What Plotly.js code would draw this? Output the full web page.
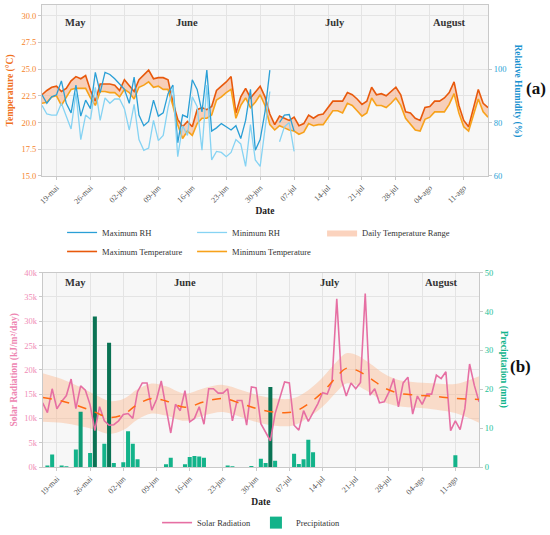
<!DOCTYPE html>
<html>
<head>
<meta charset="utf-8">
<script src="https://cdn.plot.ly/plotly-3.0.1.min.js"></script>
<style>html,body{margin:0;padding:0;background:#fff}#chart{width:550px;height:535px}</style>
</head>
<body>
<div id="chart"></div>
<script>
// ---------- data ----------
const startDay = '2023-05-16';   // first day of the daily series

const tempMax = [
  22.6, 23.0, 23.3, 23.4, 22.9, 23.2, 23.9, 24.3, 24.1, 24.4,
  23.0, 22.0, 23.6, 23.6, 23.6, 23.5, 23.0, 24.0, 23.4, 22.9,
  24.0, 24.5, 24.9, 24.1, 24.2, 24.2, 24.0, 21.9, 20.3, 19.6,
  20.1, 19.6, 21.2, 21.4, 21.2, 21.5, 23.0, 23.4, 23.8, 24.3,
  20.9, 22.4, 23.2, 22.3, 22.8, 23.4, 22.4, 20.8, 19.8, 20.6,
  20.4, 20.2, 20.5, 19.7, 19.9, 20.7, 20.4, 20.7, 20.8, 21.4,
  22.0, 22.0, 22.0, 22.8, 22.6, 22.2, 21.7, 22.0, 23.3, 22.6,
  22.7, 22.5, 22.9, 23.3, 22.6, 21.0, 20.9, 20.4, 20.2, 21.4,
  21.5, 22.0, 22.0, 22.3, 22.8, 23.8, 21.6, 20.2, 19.6, 21.3,
  23.1, 21.8, 21.4
];
const tempMin = [
  21.8, 21.9, 22.4, 22.5, 21.6, 22.3, 23.1, 23.2, 23.2, 23.2,
  22.3, 21.6, 22.9, 22.9, 22.8, 22.8, 22.4, 23.1, 22.8, 22.2,
  23.3, 23.5, 23.8, 23.3, 23.4, 23.1, 23.1, 21.6, 19.8, 18.5,
  19.2, 18.8, 19.9, 20.4, 20.4, 20.7, 22.1, 22.4, 22.8, 23.1,
  20.4, 21.6, 22.3, 21.4, 21.9, 22.6, 21.6, 19.8, 19.3, 19.7,
  19.5, 19.3, 19.2, 18.9, 19.1, 19.9, 19.7, 19.8, 19.8, 20.4,
  21.1, 21.1, 20.9, 21.8, 21.6, 21.1, 20.6, 20.9, 22.3, 21.6,
  21.6, 21.4, 21.8, 22.3, 21.6, 20.4, 19.9, 19.3, 19.2, 20.3,
  20.5, 21.0, 21.0, 21.0, 21.7, 22.7, 20.9, 19.6, 19.2, 20.6,
  22.2, 21.0, 20.5
];
const rhMax = [
  90.4, 87.2, 89.6, 90.4, 95.6, 87.2, 83.6, 94.0, 82.4, 88.4,
  85.2, 98.8, 91.2, 98.8, 98.0, 96.4, 94.4, 92.4, 87.2, 97.0,
  82.8, 78.8, 80.4, 88.4, 82.4, 83.6, 90.8, 94.0, 72.4, 82.8,
  82.0, 96.0, 92.4, 84.0, 99.6, 76.8, 78.0, 79.6, 78.4, 77.2,
  78.8, 74.0, 80.8, 92.4, 69.6, 73.6, 84.0, 99.6, null, 80.0,
  82.8, 83.0, 76.8
];
const rhMin = [
  86.4, 83.2, 82.8, 82.8, 87.2, 82.4, 77.6, 91.2, 73.6, 82.8,
  81.2, 93.2, 80.8, 89.2, 87.2, 88.8, 88.8, 85.2, 77.2, 86.8,
  73.6, 69.6, 70.4, 80.8, 73.2, 75.2, 85.6, 93.2, 67.2, 78.8,
  75.2, 89.6, 86.0, 69.6, 94.0, 66.0, 69.2, 68.8, 67.2, 68.8,
  73.6, 72.0, 63.6, 79.2, 66.0, 63.6, 78.4, 91.6, null, 72.8,
  78.4, 80.0, 69.2
];
const solarRad = [
  13200, 11200, 16100, 12000, 13500, 14700, 18100, 12000, 16700, 15800,
  12800,  7500, 12400,  9500,  8600,  8700,  9500, 10800, 11000, 10000,
  15500, 17300, 17300, 11700, 13900, 17700, 12200,  7000, 12900, 11600,
  15700,  9300, 10000, 12400,  8800, 16100, 16100, 15200, 15200, 16100,
   9500, 13700, 13700,  8600, 16500, 16300,  8900,  7000,  5400, 11000,
  14500, 17500, 17300,  8600,  7600, 11600,  9400, 11300, 13000, 15300,
  15000, 17600, 34600, 17900, 14600, 17300, 16100, 17400, 35700, 14800,
  16100, 13200, 13400, 15400, 18200, 12400, 17300, 18500, 10900, 14600,
  12900, 15000, 15000, 18900, 18200, 19600,  7500,  9500,  7700, 12000,
  21200, 16800, 13400
];
const precip = [
  0, 0.4, 3.2, 0, 0.4, 0.2, 0, 4.5, 14.2, 0,
  3.6, 38.7, 0, 6.0, 32.0, 1.0, 0, 1.2, 9.2, 6.0,
  2.0, 0, 0, 0, 0, 0, 0.7, 2.4, 0, 0,
  0.7, 2.6, 2.8, 2.7, 2.4, 0, 0, 0, 0, 0.4,
  0.2, 0, 0, 0, 0.25, 0, 2.1, 1.0, 20.6, 1.6,
  0, 0, 0, 3.4, 0.8, 2.0, 7.0, 3.8, 0, 0,
  0, 0, 0, 0, 0, 0, 0, 0, 0, 0,
  0, 0, 0, 0, 0, 0, 0, 0, 0, 0,
  0, 0, 0, 0, 0, 0, 0, 3.0, 0, 0,
  0, 0, 0
];
// smoothed solar-radiation trend and its band, read at these dates
const trendDates = ['2023-05-16','2023-05-20','2023-05-24','2023-05-27','2023-05-30','2023-06-02','2023-06-05',
  '2023-06-08','2023-06-11','2023-06-15','2023-06-19','2023-06-23','2023-06-27','2023-07-01','2023-07-05',
  '2023-07-08','2023-07-11','2023-07-14','2023-07-17','2023-07-19','2023-07-21','2023-07-24','2023-07-27',
  '2023-07-30','2023-08-03','2023-08-07','2023-08-11','2023-08-16'];
const trendVal = [14300,13600,12400,11300,10200,10800,12900,14100,13600,12300,13400,14100,13000,11800,11200,
  11400,13000,15400,18600,20300,20000,18300,16300,15200,14800,14500,14100,13900];
const bandHigh = [19300,18100,16400,14900,13600,14000,16000,17200,16600,15100,16200,16900,15800,14600,14000,
  14200,15800,18400,21700,23400,23100,21300,19200,17900,17400,17200,17100,18700];
const bandLow = [9300,9100,8400,7700,6800,7600,9800,11000,10600,9500,10600,11300,10200,9000,8400,
  8600,10200,12400,15500,17200,16900,15300,13400,12500,12200,11800,11100,9100];

const dateTicks = ['2023-05-19','2023-05-26','2023-06-02','2023-06-09','2023-06-16','2023-06-23','2023-06-30',
  '2023-07-07','2023-07-14','2023-07-21','2023-07-28','2023-08-04','2023-08-11'];
const dateTickText = ['19-mai','26-mai','02-jun','09-jun','16-jun','23-jun','30-jun',
  '07-jul','14-jul','21-jul','28-jul','04-ago','11-ago'];
const monthNames = ['May','June','July','August'];
const monthPos = ['2023-05-23','2023-06-15','2023-07-15 12:00','2023-08-08'];
const solarTicks = [0,5000,10000,15000,20000,25000,30000,35000,40000];
const solarTickText = ['0k','5k','10k','15k','20k','25k','30k','35k','40k'];
const xRange = ['2023-05-16','2023-08-16'];

// daily date list
function dayList(start, n){
  const t0 = Date.parse(start + 'T00:00:00Z');
  const out = [];
  for (let i = 0; i < n; i++) out.push(new Date(t0 + i*86400000).toISOString().slice(0,10));
  return out;
}
const days = dayList(startDay, tempMax.length);
// bar shade: heavier rain drawn in a darker green
const precipColors = precip.map(v => v >= 20 ? '#0a7354' : (v >= 12 ? '#0f9c76' : '#13b38a'));

// ---------- traces ----------
const serif = 'Liberation Serif, Times New Roman, serif';
const traces = [
  {x: days, y: rhMax, yaxis:'y2', type:'scatter', mode:'lines', name:'Maximum RH',
   line:{color:'#2a9fd6', width:1.3}, legend:'legend'},
  {x: days, y: rhMin, yaxis:'y2', type:'scatter', mode:'lines', name:'Minimum RH',
   line:{color:'#86d3f3', width:1.3}, legend:'legend'},
  {x: days, y: tempMin, type:'scatter', mode:'lines', line:{width:0, color:'rgba(0,0,0,0)'},
   showlegend:false, hoverinfo:'skip', legend:'legend'},
  {x: days, y: tempMax, type:'scatter', mode:'lines', fill:'tonexty', fillcolor:'rgba(247,168,125,0.5)',
   line:{width:0, color:'rgba(0,0,0,0)'}, name:'Daily Temperature Range', legend:'legend'},
  {x: days, y: tempMax, type:'scatter', mode:'lines', name:'Maximum Temperature',
   line:{color:'#e8590c', width:1.6}, legend:'legend'},
  {x: days, y: tempMin, type:'scatter', mode:'lines', name:'Minimum Temperature',
   line:{color:'#f7a21b', width:1.6}, legend:'legend'},

  {x: trendDates, y: bandLow, xaxis:'x2', yaxis:'y3', type:'scatter', mode:'lines',
   line:{width:0, shape:'spline', color:'rgba(0,0,0,0)'}, showlegend:false, hoverinfo:'skip', legend:'legend2'},
  {x: trendDates, y: bandHigh, xaxis:'x2', yaxis:'y3', type:'scatter', mode:'lines', fill:'tonexty',
   fillcolor:'rgba(250,185,145,0.45)', line:{width:0, shape:'spline', color:'rgba(0,0,0,0)'},
   showlegend:false, hoverinfo:'skip', legend:'legend2'},
  {x: days, y: precip, xaxis:'x2', yaxis:'y4', type:'bar', name:'Precipitation', legend:'legend2', legendrank:2,
   marker:{color: precipColors, line:{width:0}}},
  {x: days, y: solarRad, xaxis:'x2', yaxis:'y5', type:'scatter', mode:'lines', name:'Solar Radiation',
   line:{color:'#e66fa3', width:1.6}, legend:'legend2', legendrank:1},
  {x: trendDates, y: trendVal, xaxis:'x2', yaxis:'y5', type:'scatter', mode:'lines', showlegend:false,
   line:{color:'#ff6a13', width:1.5, dash:'dash', shape:'spline'}, hoverinfo:'skip', legend:'legend2'}
];

// ---------- layout ----------
const axLine = {showline:true, linecolor:'#c9c9c9', linewidth:1, ticks:'outside', ticklen:3, tickcolor:'#c9c9c9', zeroline:false};
const xCommon = Object.assign({}, axLine, {
  type:'date', range:xRange, tickvals:dateTicks, ticktext:dateTickText, tickangle:-45,
  tickfont:{size:8, color:'#555'}, showgrid:true, gridcolor:'#e4e4e4', mirror:true,
  title:{text:'<b>Date</b>', font:{size:9.5, color:'#222'}, standoff:2}
});

const annotations = [];
monthNames.forEach((m, i) => {
  annotations.push({x: monthPos[i], y:0.9, xref:'x', yref:'y domain', text:'<b>'+m+'</b>', showarrow:false,
    xanchor:'center', yanchor:'middle', font:{size:10.5, color:'#333'}});
  annotations.push({x: monthPos[i], y:0.948, xref:'x2', yref:'y3 domain', text:'<b>'+m+'</b>', showarrow:false,
    xanchor:'center', yanchor:'middle', font:{size:10.5, color:'#333'}});
});
annotations.push({x:1.0673, y:0.815, xref:'paper', yref:'paper', text:'<b>Relative Humidity (%)</b>', textangle:90,
  xanchor:'center', yanchor:'middle', showarrow:false, font:{size:9.5, color:'#1a92d0'}});
annotations.push({x:1.0336, y:0.2106, xref:'paper', yref:'paper', text:'<b>Precipitation (mm)</b>', textangle:90,
  xanchor:'center', yanchor:'middle', showarrow:false, font:{size:9.5, color:'#12b48c'}});
annotations.push({x:1.1076, y:0.82, xref:'paper', yref:'paper', text:'<b>(a)</b>', showarrow:false,
  xanchor:'center', yanchor:'middle', font:{size:17, color:'#111'}});
annotations.push({x:1.072, y:0.2165, xref:'paper', yref:'paper', text:'<b>(b)</b>', showarrow:false,
  xanchor:'center', yanchor:'middle', font:{size:17, color:'#111'}});

const layout = {
  width:550, height:535,
  margin:{l:42, r:62, t:5, b:68, autoexpand:false},
  paper_bgcolor:'#ffffff', plot_bgcolor:'#f7f7f7',
  font:{family:serif, size:8.5, color:'#333'},
  showlegend:true, bargap:0.15,
  xaxis: Object.assign({}, xCommon, {domain:[0,1], anchor:'y'}),
  yaxis: Object.assign({}, axLine, {domain:[0.63,1], anchor:'x', range:[15,31], tick0:15, dtick:2.5, tickformat:'.1f',
    tickfont:{size:8.5, color:'#f5842c'}, showgrid:true, gridcolor:'#e4e4e4',
    title:{text:'<b>Temperature (°C)</b>', font:{size:9.5, color:'#f07020'}, standoff:6}}),
  yaxis2: Object.assign({}, axLine, {overlaying:'y', side:'right', anchor:'x', range:[60,124], tickvals:[60,80,100],
    tickfont:{size:8.5, color:'#2a9fd6'}, showgrid:false}),
  xaxis2: Object.assign({}, xCommon, {domain:[0.0015,0.98], anchor:'y3'}),
  yaxis3: Object.assign({}, axLine, {domain:[0,0.4206], anchor:'x2', range:[0,40000], tickvals:solarTicks, ticktext:solarTickText,
    tickfont:{size:8.5, color:'#f08cb6'}, showgrid:true, gridcolor:'#e4e4e4', mirror:true,
    title:{text:'<b>Solar Radiation (kJ/m²/day)</b>', font:{size:9.5, color:'#ee86b2'}, standoff:4}}),
  yaxis4: Object.assign({}, axLine, {overlaying:'y3', side:'right', anchor:'x2', range:[0,50], dtick:10,
    tickfont:{size:8.5, color:'#1cc197'}, showgrid:false}),
  yaxis5: {overlaying:'y3', anchor:'x2', range:[0,40000], visible:false},
  legend:{orientation:'h', x:0.045, xanchor:'left', y:0.539, yanchor:'top', entrywidth:85, entrywidthmode:'pixels',
    font:{size:8.5, color:'#333'}, bgcolor:'rgba(0,0,0,0)', traceorder:'normal'},
  legend2:{orientation:'h', x:0.258, xanchor:'left', y:-0.089, yanchor:'top',
    font:{size:8.5, color:'#333'}, bgcolor:'rgba(0,0,0,0)', traceorder:'normal'},
  annotations: annotations
};

Plotly.newPlot('chart', traces, layout, {displayModeBar:false, staticPlot:true});
</script>
</body>
</html>
